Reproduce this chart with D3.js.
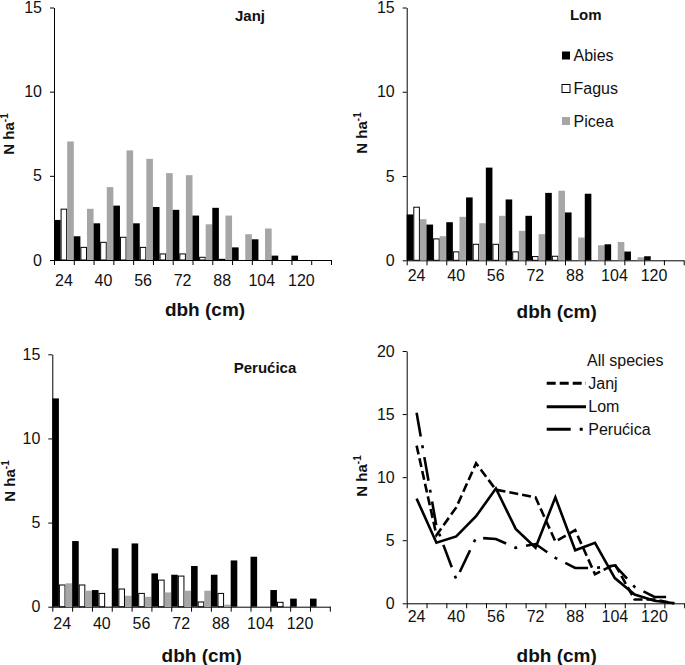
<!DOCTYPE html>
<html>
<head>
<meta charset="utf-8">
<script src="https://cdn.jsdelivr.net/npm/d3@7/dist/d3.min.js"></script>
<style>
  html, body { margin: 0; padding: 0; background: #fff; }
  svg { display: block; font-family: "Liberation Sans", Arial, sans-serif; }
</style>
</head>
<body>
<svg id="chart" width="685" height="665"></svg>
<script>
// ---------- DATA ----------
const categories = [24, 32, 40, 48, 56, 64, 72, 80, 88, 96, 104, 112, 120, 128];
const tickLabels = [24, 40, 56, 72, 88, 104, 120];
const species = ["Abies", "Fagus", "Picea"];

const janjAbies = [2.38, 1.41, 2.18, 3.23, 2.18, 3.15, 2.98, 2.64, 3.10, 0.75, 1.23, 0.26, 0.26, 0];
const janjFagus = [3.02, 0.75, 1.05, 1.35, 0.75, 0.36, 0.36, 0.16, 0.04, 0, 0, 0, 0, 0];
const janjPicea = [7.04, 3.04, 4.33, 6.51, 6.01, 5.16, 5.04, 2.12, 2.64, 1.53, 1.87, 0, 0, 0];

const lomAbies = [2.72, 2.12, 2.26, 3.73, 5.50, 3.61, 2.64, 4.00, 2.84, 3.95, 0.95, 0.52, 0.24, 0];
const lomFagus = [3.15, 1.27, 0.50, 0.95, 0.95, 0.50, 0.22, 0.24, 0, 0, 0, 0, 0, 0];
const lomPicea = [2.44, 1.43, 2.58, 2.20, 2.64, 1.75, 1.55, 4.13, 1.35, 0.89, 1.09, 0.18, 0, 0];

const perAbies = [12.38, 3.90, 0.99, 3.47, 3.76, 1.98, 1.90, 2.42, 1.90, 2.75, 2.97, 0.99, 0.48, 0.48];
const perFagus = [1.29, 1.29, 0.79, 1.05, 0.79, 1.58, 1.82, 0.28, 0.79, 0, 0, 0.26, 0, 0];
const perPicea = [1.39, 0.95, 0, 0.65, 0.59, 0.85, 0.95, 0.95, 0.12, 0, 0, 0, 0, 0];

const allJanj = [12.5, 5.4, 7.6, 11.1, 9.0, 8.7, 8.4, 4.9, 5.8, 2.3, 3.1, 0.3, 0.3, 0];
const allLom  = [8.3, 4.8, 5.3, 6.9, 9.1, 5.9, 4.4, 8.4, 4.2, 4.8, 2.0, 0.7, 0.2, 0];
const allPer  = [15.1, 6.1, 1.9, 5.2, 5.1, 4.4, 4.7, 3.6, 2.8, 2.8, 3.0, 1.3, 0.5, 0.5];

// ---------- STYLE ----------
const speciesFill = { Abies: "#000000", Fagus: "#ffffff", Picea: "#a6a6a6" };
const speciesStroke = { Abies: "none", Fagus: "#000000", Picea: "none" };
const textColor = "#111";

const svg = d3.select("#chart");

function makeAxes(g, p, yMax, yTicks) {
  const x = d3.scaleBand().domain(categories).range([p.ox, p.ox + p.w]).padding(0);
  const xi = d3.scaleLinear().domain([0, categories.length]).range([p.ox, p.ox + p.w]);
  const y = d3.scaleLinear().domain([0, yMax]).range([p.y0, p.yTop]);

  const ya = g.append("g").attr("transform", `translate(${p.ox},0)`)
    .call(d3.axisLeft(y).tickValues(yTicks).tickSize(4).tickPadding(8).tickSizeOuter(0));
  ya.select(".domain").attr("stroke", "#000");
  ya.selectAll(".tick line").attr("stroke", "#000");
  ya.selectAll("text").attr("font-size", 16).attr("fill", textColor);

  const xa = g.append("g").attr("transform", `translate(0,${p.y0})`)
    .call(d3.axisBottom(xi).tickValues(d3.range(categories.length + 1)).tickFormat("").tickSize(5).tickSizeOuter(0));
  xa.select(".domain").attr("stroke", "#000");
  xa.selectAll(".tick line").attr("stroke", "#000");

  const xl = g.append("g").attr("transform", `translate(0,${p.y0})`)
    .call(d3.axisBottom(x).tickValues(tickLabels).tickSize(0).tickPadding(p.lblPad));
  xl.select(".domain").remove();
  xl.selectAll("text").attr("font-size", 16).attr("fill", textColor);

  g.append("text").attr("x", p.xtX).attr("y", p.xtY).attr("text-anchor", "middle")
    .attr("font-size", 19).attr("font-weight", "bold").attr("fill", textColor).text("dbh (cm)");
  const yt = g.append("text")
    .attr("transform", `translate(${p.ytX},${p.ytY}) rotate(-90)`)
    .attr("text-anchor", "middle").attr("font-size", 15).attr("font-weight", "bold").attr("fill", textColor);
  yt.append("tspan").text("N ha");
  yt.append("tspan").attr("font-size", 10).attr("dy", -6).text("-1");

  return { x, y };
}

function barPanel(p, series) {
  const g = svg.append("g");
  const { x, y } = makeAxes(g, p, 15, [0, 5, 10, 15]);
  const xs = d3.scaleBand().domain(species).range([0, x.bandwidth()]).padding(0);
  const rows = categories.map((c, i) => ({ c, vals: species.map((s, j) => ({ s, v: series[j][i] })) }));
  const grp = g.selectAll(".bin").data(rows).join("g")
    .attr("transform", d => `translate(${x(d.c)},0)`);
  grp.selectAll("rect").data(d => d.vals.filter(v => v.v > 0)).join("rect")
    .attr("x", d => d.s === "Fagus" ? xs(d.s) + 0.5 : xs(d.s))
    .attr("width", d => d.s === "Fagus" ? xs.bandwidth() - 1 : xs.bandwidth())
    .attr("y", d => y(d.v))
    .attr("height", d => Math.max(0, y(0) - y(d.v)))
    .attr("fill", d => speciesFill[d.s])
    .attr("stroke", d => speciesStroke[d.s])
    .attr("stroke-width", 1);
  g.append("text").attr("x", p.tX).attr("y", p.tY).attr("text-anchor", "middle")
    .attr("font-size", 15).attr("font-weight", "bold").attr("fill", textColor).text(p.title);
  return g;
}

barPanel({ title: "Janj", ox: 54, w: 277, y0: 260, yTop: 7.5, lblPad: 15,
  xtX: 205, xtY: 316, ytX: 13.5, ytY: 134, tX: 250, tY: 20.5 },
  [janjAbies, janjFagus, janjPicea]);

const g2 = barPanel({ title: "Lom", ox: 406.7, w: 277, y0: 260.3, yTop: 7.5, lblPad: 9,
  xtX: 556.7, xtY: 318, ytX: 367, ytY: 133, tX: 585.8, tY: 20 },
  [lomAbies, lomFagus, lomPicea]);

barPanel({ title: "Perućica", ox: 52.3, w: 277.5, y0: 606.7, yTop: 354.3, lblPad: 11,
  xtX: 201.7, xtY: 662, ytX: 15, ytY: 481, tX: 265, tY: 373.3 },
  [perAbies, perFagus, perPicea]);

const leg = g2.append("g");
const legY = [55.5, 88.5, 121];
species.forEach((s, i) => {
  leg.append("rect").attr("x", 562).attr("y", legY[i] - 4).attr("width", 8).attr("height", 8)
    .attr("fill", speciesFill[s]).attr("stroke", s === "Fagus" ? "#000" : "none").attr("stroke-width", 1);
  leg.append("text").attr("x", 573.5).attr("y", legY[i]).attr("dy", "0.35em")
    .attr("font-size", 16).attr("fill", textColor).text(s);
});

// ---------- LINE PANEL ----------
const p4 = { ox: 406.7, w: 277.5, y0: 603.3, yTop: 351, lblPad: 7,
  xtX: 556.7, xtY: 662, ytX: 367, ytY: 476 };
const g4 = svg.append("g");
const ax4 = makeAxes(g4, p4, 20, [0, 5, 10, 15, 20]);
const lineSeries = [
  { name: "Janj", vals: allJanj, dash: "9,4" },
  { name: "Lom", vals: allLom, dash: null },
  { name: "Perućica", vals: allPer, dash: "24,9,3,9" }
];
const line = d3.line()
  .x((d, i) => ax4.x(categories[i]) + ax4.x.bandwidth() / 2)
  .y(d => ax4.y(d));
lineSeries.forEach(s => {
  g4.append("path").attr("d", line(s.vals)).attr("fill", "none")
    .attr("stroke", "#000").attr("stroke-width", 2.6)
    .attr("stroke-dasharray", s.dash);
});
g4.append("text").attr("x", 587).attr("y", 360).attr("dy", "0.35em")
  .attr("font-size", 16).attr("fill", textColor).text("All species");
const l4Y = [383.3, 406.7, 429.3];
lineSeries.forEach((s, i) => {
  g4.append("line").attr("x1", 546.7).attr("x2", 586).attr("y1", l4Y[i]).attr("y2", l4Y[i])
    .attr("stroke", "#000").attr("stroke-width", 3).attr("stroke-dasharray", s.dash);
  g4.append("text").attr("x", 588.3).attr("y", l4Y[i]).attr("dy", "0.35em")
    .attr("font-size", 16).attr("fill", textColor).text(s.name);
});
</script>
</body>
</html>
